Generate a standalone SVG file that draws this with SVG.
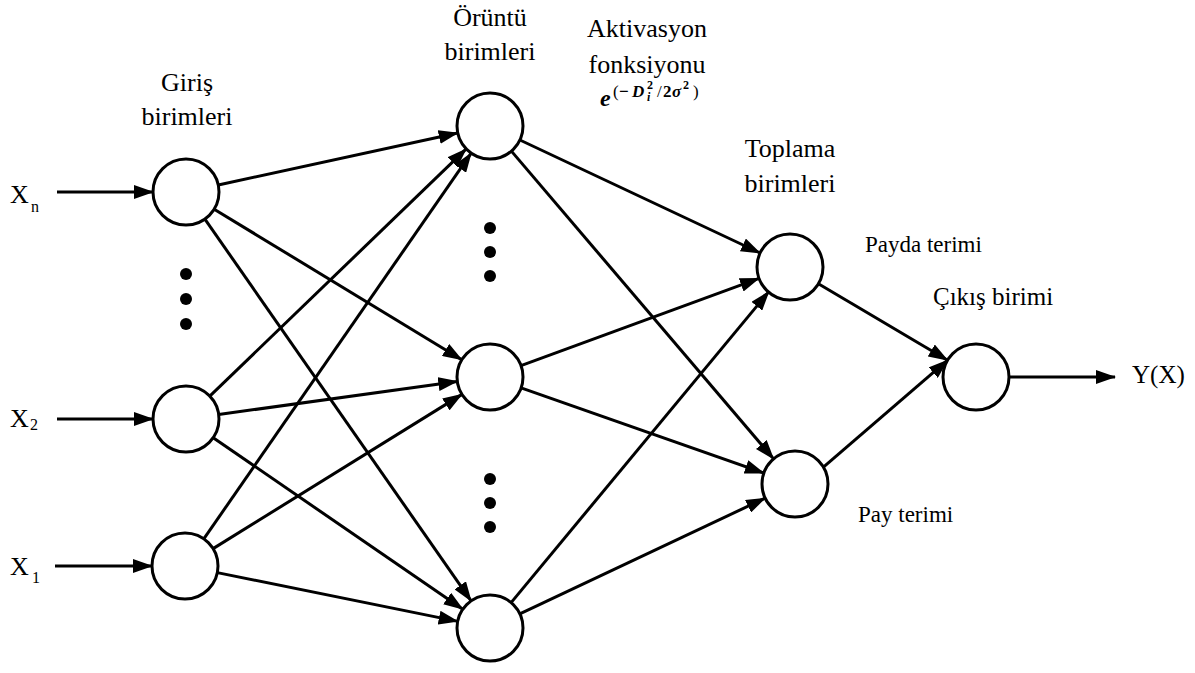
<svg xmlns="http://www.w3.org/2000/svg" width="1195" height="673" viewBox="0 0 1195 673">
<defs>
<marker id="ah" markerUnits="userSpaceOnUse" markerWidth="20" markerHeight="14" refX="19" refY="7" orient="auto">
<path d="M0,0 L20,7 L0,14 z" fill="#000"/>
</marker>
</defs>
<style>
.n{fill:#fff;stroke:#000;stroke-width:3}
.e{stroke:#000;stroke-width:3;fill:none;marker-end:url(#ah)}
text{font-family:'Liberation Serif','Times New Roman',serif;fill:#000}
.h{font-size:26px;text-anchor:middle}
.s{font-size:23px}
.d{fill:#000}
.f{font-weight:bold}
.fi{font-weight:bold;font-style:italic}
</style>
<rect width="1195" height="673" fill="#fff"/>
<g id="connectors">
<line class="e" x1="57" y1="192" x2="153" y2="192"/>
<line class="e" x1="57" y1="419" x2="153" y2="419"/>
<line class="e" x1="55" y1="566" x2="152" y2="566"/>
<line class="e" x1="218.3" y1="185" x2="457.7" y2="133"/>
<line class="e" x1="214.2" y1="209.2" x2="461.8" y2="359.8"/>
<line class="e" x1="204.9" y1="219.1" x2="471.1" y2="600.9"/>
<line class="e" x1="209.8" y1="396.1" x2="466.2" y2="148.9"/>
<line class="e" x1="218.7" y1="414.5" x2="457.3" y2="381.5"/>
<line class="e" x1="213.2" y1="437.7" x2="462.8" y2="609.3"/>
<line class="e" x1="203.8" y1="538.9" x2="471.2" y2="153.1"/>
<line class="e" x1="213.1" y1="548.6" x2="462" y2="394.4"/>
<line class="e" x1="217.3" y1="572.6" x2="457.7" y2="621.4"/>
<line class="e" x1="519.9" y1="140" x2="760.1" y2="253"/>
<line class="e" x1="511.4" y1="151.1" x2="773.6" y2="458.9"/>
<line class="e" x1="521" y1="365.6" x2="759" y2="278.4"/>
<line class="e" x1="521.1" y1="387.9" x2="763.9" y2="473.1"/>
<line class="e" x1="511.1" y1="602.6" x2="768.9" y2="291.6"/>
<line class="e" x1="519.8" y1="613.9" x2="765.2" y2="498.1"/>
<line class="e" x1="818.4" y1="283.8" x2="947.6" y2="360.2"/>
<line class="e" x1="823.4" y1="467.2" x2="947.6" y2="360.2"/>
<line class="e" x1="1009" y1="377" x2="1115" y2="377"/>
</g>
<g id="input-n"><circle class="n" cx="186" cy="192" r="33"/></g>
<g id="input-2"><circle class="n" cx="186" cy="419" r="33"/></g>
<g id="input-1"><circle class="n" cx="185" cy="566" r="33"/></g>
<g id="pattern-1"><circle class="n" cx="490" cy="126" r="33"/></g>
<g id="pattern-2"><circle class="n" cx="490" cy="377" r="33"/></g>
<g id="pattern-3"><circle class="n" cx="490" cy="628" r="33"/></g>
<g id="sum-1"><circle class="n" cx="790" cy="267" r="33"/></g>
<g id="sum-2"><circle class="n" cx="795" cy="484" r="33"/></g>
<g id="output"><circle class="n" cx="976" cy="377" r="33"/></g>
<g id="dots">
<circle class="d" cx="186" cy="274" r="6"/>
<circle class="d" cx="186" cy="299" r="6"/>
<circle class="d" cx="186" cy="324" r="6"/>
<circle class="d" cx="490" cy="228" r="6"/>
<circle class="d" cx="490" cy="252" r="6"/>
<circle class="d" cx="490" cy="276" r="6"/>
<circle class="d" cx="490" cy="479" r="6"/>
<circle class="d" cx="490" cy="503" r="6"/>
<circle class="d" cx="490" cy="527" r="6"/>
</g>
<g id="labels" font-family="'Liberation Serif', 'Times New Roman', serif">
<text class="h" x="187" y="91">Giriş</text>
<text class="h" x="187" y="125">birimleri</text>
<text class="h" x="490" y="26">Örüntü</text>
<text class="h" x="490" y="60">birimleri</text>
<text class="h" x="647" y="37">Aktivasyon</text>
<text class="h" x="647" y="73">fonksiyonu</text>
<text style="font-size:17px"><tspan class="fi" x="600" y="106" style="font-size:24px">e</tspan><tspan x="613" y="97">(</tspan><tspan class="f" x="619" y="97">−</tspan><tspan class="fi" x="632" y="97">D</tspan><tspan class="f" x="647" y="89" style="font-size:12px">2</tspan><tspan class="fi" x="647" y="101" style="font-size:12px">i</tspan><tspan x="657" y="97">/</tspan><tspan class="f" x="663" y="97">2</tspan><tspan class="fi" x="672" y="97">σ</tspan><tspan class="f" x="683" y="89" style="font-size:12px">2</tspan><tspan x="693" y="97">)</tspan></text>
<text class="h" x="790" y="157">Toplama</text>
<text class="h" x="790" y="192">birimleri</text>
<text class="s" x="865" y="252">Payda terimi</text>
<text x="933" y="305" style="font-size:25px">Çıkış birimi</text>
<text class="s" x="858" y="522">Pay terimi</text>
<text x="1132" y="383" style="font-size:25px">Y(X)</text>
<text x="10" y="203" style="font-size:26px">X</text>
<text x="31" y="212" style="font-size:16px">n</text>
<text x="10" y="427" style="font-size:26px">X</text>
<text x="30" y="430" style="font-size:16px">2</text>
<text x="10" y="575" style="font-size:26px">X</text>
<text x="32" y="583" style="font-size:16px">1</text>
</g>
</svg>
